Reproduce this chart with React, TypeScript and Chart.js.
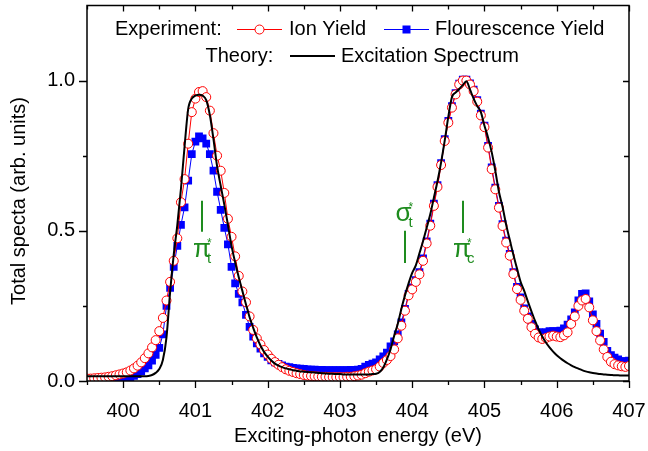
import React, { useEffect, useRef } from "react";
import { Chart, registerables } from "chart.js";
Chart.register(...registerables);

// Exciting-photon energy (eV)
const ENERGY = [
  399.5, 399.55, 399.6, 399.65, 399.7, 399.75, 399.8, 399.85, 399.9, 399.95,
  400.0, 400.05, 400.1, 400.15, 400.2, 400.25, 400.3, 400.35, 400.4, 400.45,
  400.5, 400.55, 400.6, 400.65, 400.7, 400.75, 400.8, 400.85, 400.9, 400.95,
  401.0, 401.05, 401.1, 401.15, 401.2, 401.25, 401.3, 401.35, 401.4, 401.45,
  401.5, 401.55, 401.6, 401.65, 401.7, 401.75, 401.8, 401.85, 401.9, 401.95,
  402.0, 402.05, 402.1, 402.15, 402.2, 402.25, 402.3, 402.35, 402.4, 402.45,
  402.5, 402.55, 402.6, 402.65, 402.7, 402.75, 402.8, 402.85, 402.9, 402.95,
  403.0, 403.05, 403.1, 403.15, 403.2, 403.25, 403.3, 403.35, 403.4, 403.45,
  403.5, 403.55, 403.6, 403.65, 403.7, 403.75, 403.8, 403.85, 403.9, 403.95,
  404.0, 404.05, 404.1, 404.15, 404.2, 404.25, 404.3, 404.35, 404.4, 404.45,
  404.5, 404.55, 404.6, 404.65, 404.7, 404.75, 404.8, 404.85, 404.9, 404.95,
  405.0, 405.05, 405.1, 405.15, 405.2, 405.25, 405.3, 405.35, 405.4, 405.45,
  405.5, 405.55, 405.6, 405.65, 405.7, 405.75, 405.8, 405.85, 405.9, 405.95,
  406.0, 406.05, 406.1, 406.15, 406.2, 406.25, 406.3, 406.35, 406.4, 406.45,
  406.5, 406.55, 406.6, 406.65, 406.7, 406.75, 406.8, 406.85, 406.9, 406.95,
  407.0,
];

// Experiment: Ion Yield
const ION_YIELD = [
  0.008, 0.008, 0.009, 0.01, 0.011, 0.012, 0.014, 0.016, 0.019, 0.022,
  0.025, 0.029, 0.035, 0.042, 0.051, 0.062, 0.076, 0.092, 0.112, 0.136,
  0.166, 0.21, 0.268, 0.33, 0.4, 0.475, 0.595, 0.672, 0.79, 0.895,
  0.94, 0.962, 0.965, 0.945, 0.9, 0.825, 0.75, 0.7, 0.626, 0.54,
  0.48, 0.415, 0.35, 0.298, 0.262, 0.215, 0.17, 0.142, 0.122, 0.103,
  0.088, 0.074, 0.063, 0.054, 0.046, 0.039, 0.034, 0.03, 0.026, 0.023,
  0.02, 0.018, 0.017, 0.016, 0.015, 0.014, 0.014, 0.013, 0.013, 0.013,
  0.013, 0.013, 0.014, 0.014, 0.016, 0.018, 0.021, 0.026, 0.031, 0.035,
  0.039, 0.048, 0.06, 0.07, 0.083, 0.105, 0.142, 0.184, 0.234, 0.285,
  0.305, 0.33, 0.355, 0.4, 0.458, 0.517, 0.583, 0.646, 0.719, 0.799,
  0.86, 0.91, 0.954, 0.987, 1.0, 1.0, 0.987, 0.965, 0.93, 0.884,
  0.845, 0.777, 0.705, 0.638, 0.577, 0.516, 0.461, 0.417, 0.356, 0.306,
  0.27, 0.234, 0.207, 0.179, 0.157, 0.145, 0.14, 0.143, 0.148, 0.151,
  0.148, 0.146, 0.152, 0.162, 0.19, 0.215, 0.25, 0.268, 0.273, 0.245,
  0.202, 0.166, 0.135, 0.105, 0.08, 0.064, 0.056, 0.052, 0.049, 0.047,
  0.05,
];

// Experiment: Flourescence Yield
const FLUO_YIELD = [
  0.003, 0.003, 0.003, 0.004, 0.004, 0.004, 0.005, 0.005, 0.006, 0.006,
  0.007, 0.009, 0.012, 0.017, 0.023, 0.032, 0.042, 0.052, 0.068, 0.087,
  0.11, 0.155, 0.25, 0.31, 0.38, 0.45, 0.52, 0.578, 0.667, 0.755,
  0.797, 0.814, 0.808, 0.79, 0.755, 0.7, 0.63, 0.57, 0.51, 0.455,
  0.38, 0.325, 0.29, 0.262, 0.22, 0.18, 0.148, 0.125, 0.108, 0.092,
  0.08, 0.069, 0.062, 0.057, 0.052, 0.048, 0.046, 0.044, 0.042, 0.041,
  0.04, 0.039, 0.038, 0.038, 0.037, 0.037, 0.036, 0.036, 0.036, 0.036,
  0.036, 0.036, 0.036, 0.037, 0.037, 0.038, 0.04, 0.048, 0.054, 0.058,
  0.062, 0.072, 0.082, 0.094, 0.115, 0.132, 0.155, 0.195, 0.24, 0.29,
  0.312, 0.336, 0.362, 0.408, 0.465, 0.524, 0.59, 0.652, 0.725, 0.805,
  0.866, 0.915, 0.958, 0.99, 1.003, 1.003, 0.991, 0.97, 0.935, 0.89,
  0.85, 0.783, 0.711, 0.644, 0.583, 0.522, 0.467, 0.423, 0.362, 0.313,
  0.278, 0.242, 0.215, 0.19, 0.172, 0.163, 0.16, 0.163, 0.166, 0.166,
  0.166, 0.168, 0.175, 0.188, 0.205, 0.228, 0.268, 0.29, 0.292, 0.265,
  0.222, 0.19, 0.158, 0.13, 0.1, 0.086, 0.078, 0.072, 0.066, 0.066,
  0.068,
];

// Theory: Excitation Spectrum
const THEORY = [
  0.016, 0.016, 0.016, 0.016, 0.016, 0.016, 0.016, 0.016, 0.016, 0.016,
  0.016, 0.016, 0.016, 0.016, 0.016, 0.016, 0.016, 0.017, 0.02, 0.027,
  0.04, 0.07, 0.145, 0.295, 0.42, 0.52, 0.64, 0.78, 0.905, 0.94,
  0.95, 0.953, 0.95, 0.935, 0.885, 0.805, 0.715, 0.65, 0.587, 0.52,
  0.45, 0.395, 0.345, 0.3, 0.255, 0.212, 0.177, 0.145, 0.118, 0.097,
  0.081, 0.068, 0.058, 0.051, 0.046, 0.042, 0.039, 0.036, 0.034, 0.032,
  0.031, 0.03, 0.029, 0.028, 0.027, 0.026, 0.025, 0.024, 0.024, 0.023,
  0.023, 0.022, 0.022, 0.022, 0.022, 0.022, 0.022, 0.022, 0.022, 0.023,
  0.024, 0.03, 0.045, 0.072, 0.105, 0.15, 0.19, 0.24, 0.285, 0.325,
  0.36, 0.385, 0.425, 0.465, 0.51, 0.555, 0.61, 0.665, 0.728, 0.8,
  0.88, 0.945, 0.96, 0.972, 0.985, 0.998, 0.97, 0.94, 0.915, 0.895,
  0.85, 0.81, 0.762, 0.7, 0.63, 0.58, 0.52, 0.47, 0.42, 0.375,
  0.33, 0.3, 0.265, 0.232, 0.2, 0.172, 0.148, 0.128, 0.112, 0.098,
  0.086, 0.076, 0.067, 0.059, 0.052, 0.046, 0.041, 0.036, 0.032, 0.029,
  0.027, 0.025, 0.023, 0.022, 0.021, 0.02, 0.019, 0.019, 0.018, 0.018,
  0.018,
];

const X_TICKS = [400, 401, 402, 403, 404, 405, 406, 407];
const X_MINOR = [399.5, 400.5, 401.5, 402.5, 403.5, 404.5, 405.5, 406.5];
const Y_TICKS = [0, 0.5, 1.0];
const Y_MINOR = [0.25, 0.75];

const X_TITLE = "Exciting-photon energy (eV)";
const Y_TITLE = "Total specta (arb. units)";

// peak assignments: symbol, subscript, marker x, marker top/bottom, label position
const ANNOTATIONS = [
  { sym: "π", sub: "t", x: 401.09, lineTop: 0.6, lineBottom: 0.497, labelX: 401.09, labelY: 0.414 },
  { sym: "σ", sub: "t", x: 403.9, lineTop: 0.5, lineBottom: 0.393, labelX: 403.88, labelY: 0.532 },
  { sym: "π", sub: "c", x: 404.7, lineTop: 0.6, lineBottom: 0.493, labelX: 404.69, labelY: 0.414 },
];

const FONT = '"Liberation Sans", Arial, Helvetica, sans-serif';
const GREEN = "#1e8c1e";
const RED = "#ff0000";
const BLUE = "#0000ff";

const toPoints = (ys: number[]) => ENERGY.map((x, i) => ({ x, y: ys[i] }));

const decorPlugin = {
  id: "decor",
  afterDraw(chart: any) {
    const { ctx, chartArea: a, scales } = chart;
    const xs = scales.x;
    const ys = scales.y;
    ctx.save();
    // frame
    ctx.strokeStyle = "#000";
    ctx.lineWidth = 1.5;
    ctx.strokeRect(a.left, a.top, a.right - a.left, a.bottom - a.top);
    // ticks
    ctx.lineWidth = 1.3;
    ctx.beginPath();
    for (const v of X_TICKS) {
      const p = Math.round(xs.getPixelForValue(v)) + 0.5;
      ctx.moveTo(p, a.bottom);
      ctx.lineTo(p, a.bottom + 7);
      ctx.moveTo(p, a.top);
      ctx.lineTo(p, a.top + 6);
    }
    for (const v of X_MINOR) {
      const p = Math.round(xs.getPixelForValue(v)) + 0.5;
      ctx.moveTo(p, a.bottom);
      ctx.lineTo(p, a.bottom + 4);
      ctx.moveTo(p, a.top);
      ctx.lineTo(p, a.top + 4);
    }
    for (const v of Y_TICKS) {
      const p = Math.round(ys.getPixelForValue(v)) + 0.5;
      ctx.moveTo(a.left, p);
      ctx.lineTo(a.left - 8, p);
      ctx.moveTo(a.right, p);
      ctx.lineTo(a.right - 6, p);
    }
    for (const v of Y_MINOR) {
      const p = Math.round(ys.getPixelForValue(v)) + 0.5;
      ctx.moveTo(a.left, p);
      ctx.lineTo(a.left - 4, p);
      ctx.moveTo(a.right, p);
      ctx.lineTo(a.right - 5, p);
    }
    ctx.stroke();

    // axis titles
    ctx.fillStyle = "#000";
    ctx.font = `20px ${FONT}`;
    ctx.textAlign = "center";
    ctx.textBaseline = "middle";
    ctx.fillText(X_TITLE, (a.left + a.right) / 2, 436);
    ctx.save();
    ctx.translate(19, 201);
    ctx.rotate(-Math.PI / 2);
    ctx.fillText(Y_TITLE, 0, 0);
    ctx.restore();

    // legend
    ctx.textAlign = "left";
    ctx.textBaseline = "middle";
    const r1 = 29;
    const r2 = 56;
    ctx.fillText("Experiment:", 115, r1);
    ctx.fillText("Ion Yield", 289, r1);
    ctx.fillText("Flourescence Yield", 435, r1);
    ctx.fillText("Theory:", 205.5, r2);
    ctx.fillText("Excitation Spectrum", 341, r2);
    // red sample
    ctx.strokeStyle = RED;
    ctx.lineWidth = 1;
    ctx.beginPath();
    ctx.moveTo(237, r1 + 0.5);
    ctx.lineTo(282, r1 + 0.5);
    ctx.stroke();
    ctx.beginPath();
    ctx.arc(259.5, r1 + 0.5, 4.5, 0, Math.PI * 2);
    ctx.fillStyle = "#fff";
    ctx.fill();
    ctx.stroke();
    // blue sample
    ctx.strokeStyle = BLUE;
    ctx.beginPath();
    ctx.moveTo(384, r1 + 0.5);
    ctx.lineTo(429, r1 + 0.5);
    ctx.stroke();
    ctx.fillStyle = BLUE;
    ctx.fillRect(402.5, r1 - 3.5, 8, 8);
    // black sample
    ctx.strokeStyle = "#000";
    ctx.lineWidth = 2;
    ctx.beginPath();
    ctx.moveTo(290, r2);
    ctx.lineTo(335, r2);
    ctx.stroke();

    // annotations
    ctx.strokeStyle = GREEN;
    ctx.fillStyle = GREEN;
    ctx.lineWidth = 2;
    for (const an of ANNOTATIONS) {
      const px = Math.round(xs.getPixelForValue(an.x));
      ctx.beginPath();
      ctx.moveTo(px, ys.getPixelForValue(an.lineTop));
      ctx.lineTo(px, ys.getPixelForValue(an.lineBottom));
      ctx.stroke();
      const lx = xs.getPixelForValue(an.labelX);
      const ly = ys.getPixelForValue(an.labelY);
      ctx.font = `26px ${FONT}`;
      ctx.textAlign = "center";
      ctx.textBaseline = "alphabetic";
      ctx.fillText(an.sym, lx, ly);
      ctx.textAlign = "left";
      ctx.font = `15px ${FONT}`;
      ctx.fillText(an.sub, lx + 5, ly + 6);
      ctx.font = `12px ${FONT}`;
      ctx.fillText("*", lx + 5, ly - 10);
    }
    ctx.restore();
  },
};

export default function App() {
  const ref = useRef<HTMLCanvasElement | null>(null);
  useEffect(() => {
    if (!ref.current) return;
    const chart = new Chart(ref.current, {
      type: "line",
      data: {
        datasets: [
          {
            label: "Excitation Spectrum",
            data: toPoints(THEORY),
            borderColor: "#000",
            borderWidth: 2,
            pointRadius: 0,
            cubicInterpolationMode: "monotone",
            fill: false,
          },
          {
            label: "Ion Yield",
            data: toPoints(ION_YIELD),
            borderColor: RED,
            borderWidth: 1,
            pointStyle: "circle",
            pointRadius: 4.5,
            pointBorderWidth: 1,
            pointBorderColor: RED,
            pointBackgroundColor: "#fff",
            tension: 0,
            fill: false,
          },
          {
            label: "Flourescence Yield",
            data: toPoints(FLUO_YIELD),
            borderColor: BLUE,
            borderWidth: 1,
            pointStyle: "rect",
            pointRadius: 5.5,
            pointBorderWidth: 0,
            pointBorderColor: BLUE,
            pointBackgroundColor: BLUE,
            tension: 0,
            fill: false,
          },
        ],
      },
      options: {
        animation: false,
        responsive: false,
        devicePixelRatio: 1,
        events: [],
        layout: { padding: { top: 5, right: 19, bottom: 0, left: 0 } },
        plugins: { legend: { display: false }, tooltip: { enabled: false } },
        scales: {
          x: {
            type: "linear",
            min: 399.5,
            max: 407,
            afterBuildTicks: (s: any) => {
              s.ticks = X_TICKS.map((v) => ({ value: v }));
            },
            afterFit: (s: any) => {
              s.height = 70;
              s.paddingLeft = 0;
              s.paddingRight = 0;
              s.paddingTop = 0;
              s.paddingBottom = 0;
            },
            grid: { display: false, drawTicks: false },
            border: { display: false },
            ticks: {
              autoSkip: false,
              maxRotation: 0,
              padding: 18,
              color: "#000",
              font: { family: FONT, size: 20 },
              callback: (v: any) => String(v),
            },
          },
          y: {
            type: "linear",
            min: 0,
            max: 1.25,
            afterBuildTicks: (s: any) => {
              s.ticks = Y_TICKS.map((v) => ({ value: v }));
            },
            afterFit: (s: any) => {
              s.width = 87;
              s.paddingLeft = 0;
              s.paddingRight = 0;
              s.paddingTop = 0;
              s.paddingBottom = 0;
            },
            grid: { display: false, drawTicks: false },
            border: { display: false },
            ticks: {
              padding: 12,
              color: "#000",
              font: { family: FONT, size: 20 },
              callback: (v: any) => Number(v).toFixed(1),
            },
          },
        },
      },
      plugins: [decorPlugin],
    });
    return () => chart.destroy();
  }, []);
  return (
    <div style={{ position: "fixed", left: 0, top: 0, width: 648, height: 451, background: "#fff" }}>
      <canvas ref={ref} width={648} height={451} style={{ display: "block" }} />
    </div>
  );
}
